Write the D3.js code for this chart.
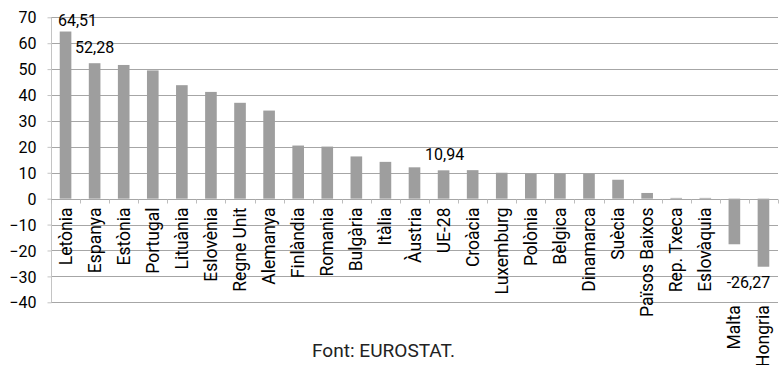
<!DOCTYPE html>
<html>
<head>
  <meta charset="utf-8">
  <title>Variació per països</title>
</head>
<style>
  body, html {
    margin: 0;
    padding: 0;
    background: #fff;
  }
  text {
    font-family: Roboto, "DejaVu Sans", sans-serif;
  }
</style>
<body>

  <svg id="svg" width="779" height="365"></svg>

  <script src="https://d3js.org/d3.v7.min.js"></script>
  <script>

    // data
    const countries = ['Letònia', 'Espanya', 'Estònia', 'Portugal', 'Lituània', 'Eslovènia', 'Regne Unit',
      'Alemanya', 'Finlàndia', 'Romania', 'Bulgària', 'Itàlia', 'Àustria', 'UE-28', 'Croàcia', 'Luxemburg',
      'Polònia', 'Bèlgica', 'Dinamarca', 'Suècia', 'Països Baixos', 'Rep. Txeca', 'Eslovàquia', 'Malta', 'Hongria']
    const values = [64.51, 52.28, 51.6, 49.5, 43.8, 41.2, 37.0,
      34.0, 20.5, 20.1, 16.3, 14.2, 12.1, 10.94, 11.0, 10.0,
      9.6, 9.6, 9.6, 7.3, 2.2, 0.3, 0.3, -17.6, -26.27]
    const yTicks = [70, 60, 50, 40, 30, 20, 10, 0, -10, -20, -30, -40]
    // labelled values
    const labelled = ['Letònia', 'Espanya', 'UE-28', 'Hongria']
    const source = 'Font: EUROSTAT.'

    const data = countries.map((c, i) => ({ country: c, value: values[i] }))
    const svg = d3.select('#svg')

    const mLeft = 51, mRight = 778, mTop = 17.3, mBottom = 302.3

    const x = d3.scaleBand()
      .domain(countries)
      .range([mLeft, mRight])
      .paddingInner(0.6)
      .paddingOuter(0.3)

    const y = d3.scaleLinear()
      .domain([-40, 70])
      .range([mBottom, mTop])

    // gridlines
    svg.append('g')
      .selectAll('line')
      .data(yTicks.filter(t => t !== 0))
      .join('line')
      .attr('x1', mLeft).attr('x2', mRight)
      .attr('y1', d => Math.round(y(d)) + 0.5).attr('y2', d => Math.round(y(d)) + 0.5)
      .attr('stroke', '#a6a6a6')

    // y axis
    const yAxis = svg.append('g')
      .attr('transform', `translate(${mLeft + 0.5},0)`)
      .call(d3.axisLeft(y).tickValues(yTicks).tickSize(0).tickPadding(15).tickFormat(d3.format('d')))
    yAxis.select('.domain').attr('stroke', '#c4c4c4')
      .attr('d', `M0,${Math.round(y(70)) + 0.5}V${Math.round(y(-40)) + 0.5}`)
    yAxis.selectAll('text')
      .attr('font-size', 16)
      .attr('fill', '#000')
      .style('font-family', 'Roboto, sans-serif')
      .attr('dy', '0.35em')
    // small marks on y axis
    yAxis.selectAll('.tick').append('line').attr('x1', -4).attr('x2', 0).attr('stroke', '#c4c4c4')

    // bars
    svg.append('g')
      .selectAll('rect')
      .data(data)
      .join('rect')
      .attr('x', d => x(d.country))
      .attr('width', x.bandwidth())
      .attr('y', d => y(Math.max(0, d.value)))
      .attr('height', d => Math.abs(y(d.value) - y(0)))
      .attr('fill', '#9e9e9e')

    // zero line with band-boundary ticks
    const zeroY = Math.round(y(0)) + 0.5
    const bounds = d3.range(countries.length + 1).map(i => mLeft + i * (mRight - mLeft) / countries.length)
    svg.append('line')
      .attr('x1', mLeft).attr('x2', mRight)
      .attr('y1', zeroY).attr('y2', zeroY)
      .attr('stroke', '#a6a6a6')
    svg.append('g')
      .selectAll('line')
      .data(bounds)
      .join('line')
      .attr('x1', d => Math.round(d) + 0.5).attr('x2', d => Math.round(d) + 0.5)
      .attr('y1', zeroY).attr('y2', zeroY + 4)
      .attr('stroke', '#bdbdbd')

    // category labels, rotated
    svg.append('g')
      .selectAll('text')
      .data(data)
      .join('text')
      .attr('transform', d => {
        const ty = d.value < -10 ? y(-40) + 3 : zeroY + 8
        return `translate(${x(d.country) + x.bandwidth() / 2 + 6},${ty}) rotate(-90)`
      })
      .attr('text-anchor', 'end')
      .attr('font-size', 17.5)
      .attr('fill', '#000')
      .text(d => d.country)

    // value labels
    const fmt = v => v.toFixed(2).replace('.', ',')
    const labelOffsets = {
      'Letònia': { dx: 12, dy: -6 },
      'Espanya': { dx: 0, dy: -10 },
      'UE-28': { dx: 1, dy: -10 },
      'Hongria': { dx: -15, dy: 21 }
    }
    svg.append('g')
      .selectAll('text')
      .data(data.filter(d => labelled.includes(d.country)))
      .join('text')
      .attr('x', d => x(d.country) + x.bandwidth() / 2 + labelOffsets[d.country].dx)
      .attr('y', d => y(d.value) + labelOffsets[d.country].dy)
      .attr('text-anchor', 'middle')
      .attr('font-size', 16)
      .attr('fill', '#000')
      .text(d => fmt(d.value))

    // source
    svg.append('text')
      .attr('x', 312)
      .attr('y', 357)
      .attr('font-size', 19)
      .attr('fill', '#222')
      .attr('textLength', 143)
      .attr('lengthAdjust', 'spacingAndGlyphs')
      .text(source)

  </script>

</body>
</html>
